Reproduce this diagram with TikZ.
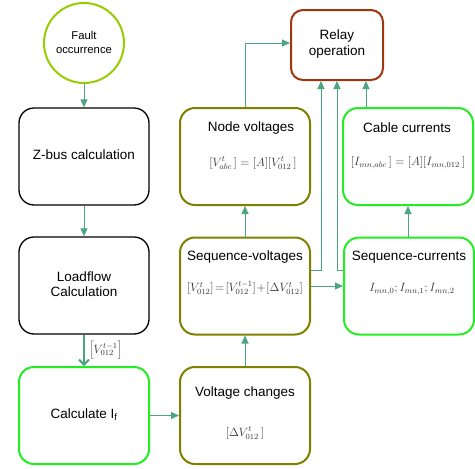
\documentclass[tikz,border=0pt]{standalone}
\usepackage{fontspec}
\setmainfont{Liberation Sans}
\usetikzlibrary{arrows.meta,calc}
\definecolor{arrc}{HTML}{4DA57F}
\definecolor{olive}{HTML}{808000}
\definecolor{bgreen}{HTML}{22EE22}
\definecolor{lgreen}{HTML}{99CC00}
\definecolor{relayc}{HTML}{A0360E}
\definecolor{mathc}{HTML}{353535}
\begin{document}
\begin{tikzpicture}[x=1pt,y=-1pt,
  box/.style={draw,rounded corners=15pt,minimum width=130pt,minimum height=97pt,inner sep=0pt,fill=white},
  blackbox/.style={box,draw=black,line width=1.3pt},
  olivebox/.style={box,draw=olive,line width=2pt},
  greenbox/.style={box,draw=bgreen,line width=2pt},
  ttl/.style={font=\fontsize{13.5}{16}\selectfont,align=center,inner sep=0pt},
  mth/.style={text=mathc,font=\fontsize{11.5}{13}\selectfont,inner sep=0pt},
  arr/.style={draw=arrc,line width=0.9pt,-{Triangle[length=8pt,width=7pt]}},
  thickarr/.style={draw=arrc,line width=2pt,-{Straight Barb[length=5pt,width=10pt]}}
]
\useasboundingbox (0,0) rectangle (475,469);
% nodes
\node[circle,draw=lgreen,line width=2pt,minimum size=80pt,inner sep=0pt,fill=white] (fault) at (84,43) {};
\node[ttl,font=\fontsize{11.3}{14}\selectfont] (faultt) at (84,42) {Fault\\occurrence};
\node[blackbox] (zbus) at (84,156.5) {};
\node[ttl] (zbust) at (84,155) {Z-bus calculation};
\node[blackbox] (load) at (84,285.5) {};
\node[ttl,font=\fontsize{13.5}{15.5}\selectfont] (loadt) at (84,284) {Loadflow\\Calculation};
\node[greenbox] (calc) at (84,415.5) {};
\node[ttl] (calct) at (84,415) {Calculate I\textsubscript{f}};
\node[olivebox] (nodev) at (245,156.5) {};
\node[ttl] (nodevt) at (251,128) {Node voltages};
\node[mth] (nodevm) at (253,163) {$[V^t_{abc}\,]=[A][V^t_{012}\,]$};
\node[olivebox] (seqv) at (245,286) {};
\node[ttl] (seqvt) at (245,257) {Sequence-voltages};
\node[mth] (seqvm) at (245,288) {$[V^t_{012}]\!=\![V^{t-1}_{012}]\!+\![\Delta V^t_{012}]$};
\node[olivebox] (vchg) at (245,415.5) {};
\node[ttl] (vchgt) at (245,393) {Voltage changes};
\node[mth] (vchgm) at (245,433) {$[\Delta V^t_{012}\,]$};
\node[draw=relayc,line width=2pt,rounded corners=12pt,minimum width=92pt,minimum height=70pt,inner sep=0pt,fill=white] (relay) at (337,45) {};
\node[ttl] (relayt) at (337,44) {Relay\\operation};
\node[greenbox] (cable) at (408,156.5) {};
\node[ttl] (cablet) at (407,128) {Cable currents};
\node[mth] (cablem) at (408,163) {$[I_{mn,abc}\,]=[A][I_{mn,012}\,]$};
\node[greenbox] (seqc) at (409,286) {};
\node[ttl] (seqct) at (409,257) {Sequence-currents};
\node[mth] (seqcm) at (412,289) {$I_{mn,0};I_{mn,1};I_{mn,2}$};
% connectors
\draw[arr] (fault) -- (zbus);
\draw[arr] (zbus) -- (load);
\draw[thickarr] (load) -- node[right=4pt,mth] (lbl) {$\left[V^{t-1}_{012}\right]$} (calc);
\draw[arr] (calc) -- (vchg);
\draw[arr] (vchg) -- (seqv);
\draw[arr] (seqv) -- (nodev);
\draw[arr] (nodev.north) |- ([yshift=2pt]relay.west);
\draw[arr] ([yshift=16pt]seqv.east) -| ([xshift=-16pt]relay.south);
\draw[arr] ([yshift=16pt]seqc.west) -| (relay.south);
\draw[arr] (seqv) -- (seqc);
\draw[arr] (seqc.north -| cable) -- (cable);
\draw[arr] ([xshift=-42pt]cable.north) -- ([xshift=-42pt]cable.north |- relay.south);
\end{tikzpicture}
\end{document}
